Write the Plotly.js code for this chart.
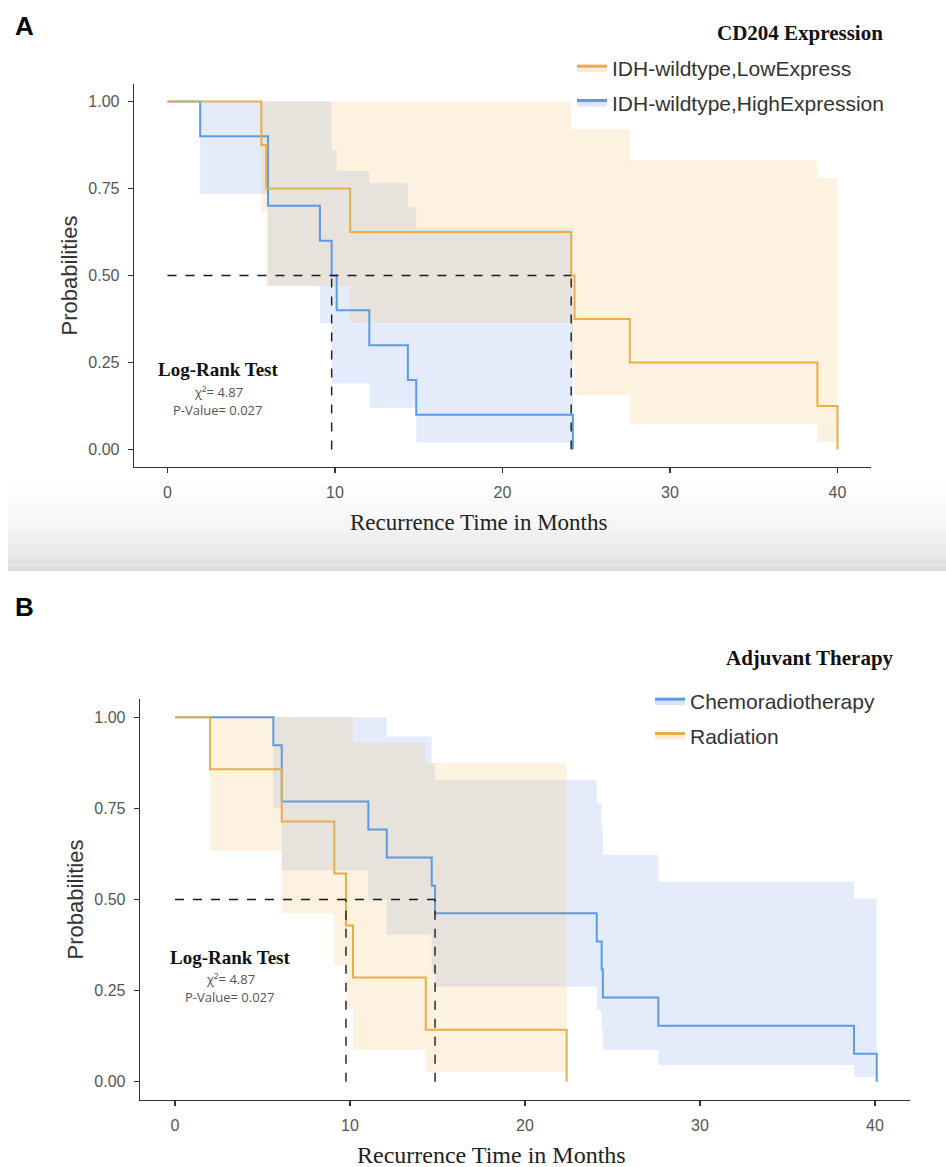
<!DOCTYPE html>
<html>
<head>
<meta charset="utf-8">
<script src="https://cdn.plot.ly/plotly-3.0.1.min.js"></script>
<style>html,body{margin:0;padding:0;background:#fff;}#chart{width:946px;height:1167px;}</style>
</head>
<body>
<div id="chart"></div>
<script>
// ---------- Panel A: CD204 Expression ----------
const A_low_name = "IDH-wildtype,LowExpress";
const A_low_time  = [0, 5.6, 5.9, 10.9, 24.1, 24.3, 27.6, 38.8, 40.0];
const A_low_surv  = [1, 0.875, 0.75, 0.625, 0.5, 0.375, 0.25, 0.125, 0];
const A_low_upper = [1, 1, 1, 1, 0.92, 0.92, 0.83, 0.78];
const A_low_lower = [1, 0.68, 0.47, 0.365, 0.25, 0.157, 0.075, 0.022];

const A_high_name = "IDH-wildtype,HighExpression";
const A_high_time  = [0, 1.95, 6.0, 9.1, 9.8, 10.1, 12.05, 14.35, 14.85, 24.2];
const A_high_surv  = [1, 0.9, 0.7, 0.6, 0.5, 0.4, 0.3, 0.2, 0.1, 0];
const A_high_upper = [1, 1, 1, 1, 0.86, 0.80, 0.765, 0.695, 0.635];
const A_high_lower = [1, 0.735, 0.47, 0.363, 0.19, 0.19, 0.12, 0.12, 0.02];

// ---------- Panel B: Adjuvant Therapy ----------
const B_chemo_name = "Chemoradiotherapy";
const B_chemo_time  = [0, 5.62, 6.1, 11.05, 12.1, 14.67, 14.86, 24.1, 24.38, 24.45, 27.62, 38.8, 40.1];
const B_chemo_surv  = [1, 0.923, 0.769, 0.692, 0.615, 0.538, 0.462, 0.385, 0.308, 0.231, 0.154, 0.077, 0];
const B_chemo_upper = [1, 1, 1, 1, 0.947, 0.874, 0.828, 0.764, 0.70, 0.622, 0.549, 0.503];
const B_chemo_lower = [1, 0.75, 0.58, 0.5, 0.403, 0.3, 0.261, 0.197, 0.14, 0.087, 0.046, 0.014];

const B_rad_name = "Radiation";
const B_rad_time  = [0, 2.0, 6.1, 9.1, 9.77, 10.17, 14.33, 22.38];
const B_rad_surv  = [1, 0.857, 0.714, 0.571, 0.429, 0.286, 0.143, 0];
const B_rad_upper = [1, 1, 1, 1, 1, 0.93, 0.874];
const B_rad_lower = [1, 0.634, 0.462, 0.32, 0.2, 0.087, 0.027];

const xTicks = [0, 10, 20, 30, 40];
const yTicks = [0, 0.25, 0.5, 0.75, 1];
const testLines = ["Log-Rank Test", "χ²= 4.87", "P-Value= 0.027"];
const xTitle = "Recurrence Time in Months";
const yTitle = "Probabilities";
const legendTitleA = "CD204 Expression";
const legendTitleB = "Adjuvant Therapy";

// ---------- styling ----------
const ORANGE = "#E8AF48", BLUE = "#5E9AE2";
const ORANGE_FILL = "rgba(245,190,110,0.22)", BLUE_FILL = "rgba(130,170,240,0.22)";
const ORANGE_LEG = "rgba(245,190,110,0.30)", BLUE_LEG = "rgba(130,170,240,0.30)";
const SANS = "Liberation Sans, Arial, sans-serif";
const SERIF = "Liberation Serif, Times New Roman, serif";

function bandTraces(t, up, lo, fill, xa, ya) {
  const yl = lo.concat([lo[lo.length - 1]]);
  const yu = up.concat([up[up.length - 1]]);
  return [
    {x: t, y: yl, xaxis: xa, yaxis: ya, mode: "lines", line: {width: 0, shape: "hv"}, hoverinfo: "skip", showlegend: false},
    {x: t, y: yu, xaxis: xa, yaxis: ya, mode: "lines", line: {width: 0, shape: "hv"}, fill: "tonexty", fillcolor: fill, hoverinfo: "skip", showlegend: false}
  ];
}
function curve(t, s, color, xa, ya) {
  return {x: t, y: s, xaxis: xa, yaxis: ya, mode: "lines", line: {shape: "hv", color: color, width: 2}, showlegend: false};
}
function legendEntry(name, color, fill, xa, ya, leg, grp) {
  return {x: [null], y: [null], xaxis: xa, yaxis: ya, mode: "lines", fill: "toself", fillcolor: fill,
          line: {color: color, width: 3}, name: name, legend: leg, legendgroup: grp, showlegend: true};
}
function median(t, s) { for (let i = 0; i < s.length; i++) if (s[i] <= 0.5) return t[i]; return null; }

const traces = [].concat(
  bandTraces(A_high_time, A_high_upper, A_high_lower, BLUE_FILL, "x", "y"),
  bandTraces(A_low_time, A_low_upper, A_low_lower, ORANGE_FILL, "x", "y"),
  [curve(A_high_time, A_high_surv, BLUE, "x", "y"), curve(A_low_time, A_low_surv, ORANGE, "x", "y")],
  bandTraces(B_chemo_time, B_chemo_upper, B_chemo_lower, BLUE_FILL, "x2", "y2"),
  bandTraces(B_rad_time, B_rad_upper, B_rad_lower, ORANGE_FILL, "x2", "y2"),
  [curve(B_chemo_time, B_chemo_surv, BLUE, "x2", "y2"), curve(B_rad_time, B_rad_surv, ORANGE, "x2", "y2")],
  [legendEntry(A_low_name, ORANGE, ORANGE_LEG, "x", "y", "legend", "a1"),
   legendEntry(A_high_name, BLUE, BLUE_LEG, "x", "y", "legend", "a2"),
   legendEntry(B_chemo_name, BLUE, BLUE_LEG, "x2", "y2", "legend2", "b1"),
   legendEntry(B_rad_name, ORANGE, ORANGE_LEG, "x2", "y2", "legend2", "b2")]
);

const W = 946, H = 1167;
const px = v => v / W, py = v => 1 - v / H;

const shapes = [];
// grey gradient band between the panels
const gTop = 482, gBot = 571, nG = 16;
for (let i = 0; i < nG; i++) {
  const y0 = gTop + (gBot - gTop) * i / nG, y1 = gTop + (gBot - gTop) * (i + 1) / nG;
  const f = Math.pow((i + 1) / nG, 1.8);
  const c = Math.round(254 - f * 32);
  shapes.push({type: "rect", xref: "paper", yref: "paper", layer: "below",
    x0: px(8), x1: 1, y0: py(y1), y1: py(y0), line: {width: 0}, fillcolor: `rgb(${c},${c},${c})`});
}
function medianShapes(mA, mB, xa, ya) {
  const mx = Math.max(mA, mB);
  const st = {color: "#1a1a1a", width: 1.4, dash: "dash"};
  return [
    {type: "line", xref: xa, yref: ya, x0: 0, x1: mx, y0: 0.5, y1: 0.5, line: st},
    {type: "line", xref: xa, yref: ya, x0: mA, x1: mA, y0: 0, y1: 0.5, line: st},
    {type: "line", xref: xa, yref: ya, x0: mB, x1: mB, y0: 0, y1: 0.5, line: st}
  ];
}
shapes.push(...medianShapes(median(A_high_time, A_high_surv), median(A_low_time, A_low_surv), "x", "y"));
shapes.push(...medianShapes(median(B_rad_time, B_rad_surv), median(B_chemo_time, B_chemo_surv), "x2", "y2"));

function xAxis(domain, anchor) {
  return {domain: domain, anchor: anchor, range: [-2, 42], tickvals: xTicks, ticktext: xTicks.map(String),
    showgrid: false, zeroline: false, showline: true, linecolor: "#333", linewidth: 1.3,
    ticks: "outside", ticklen: 5, tickwidth: 1.3, tickcolor: "#333", ticklabelstandoff: 5,
    tickfont: {family: SANS, size: 16, color: "#555"}};
}
function yAxis(domain, anchor) {
  return {domain: domain, anchor: anchor, range: [-0.05, 1.05], tickvals: yTicks, ticktext: yTicks.map(v => v.toFixed(2)),
    showgrid: false, zeroline: false, showline: true, linecolor: "#333", linewidth: 1.3,
    ticks: "outside", ticklen: 5, tickwidth: 1.3, tickcolor: "#333", ticklabelstandoff: 5,
    tickfont: {family: SANS, size: 16, color: "#555"},
    title: {text: yTitle, standoff: 4, font: {family: SANS, size: 22, color: "#333"}}};
}

function ann(text, x, y, font, extra) {
  return Object.assign({text: text, x: px(x), y: py(y), xref: "paper", yref: "paper", showarrow: false,
    xanchor: "center", yanchor: "middle", font: font}, extra || {});
}
function testAnn(cx, y0) {
  return [
    ann("<b>" + testLines[0] + "</b>", cx, y0, {family: SERIF, size: 19, color: "#111"}),
    ann(testLines[1], cx, y0 + 22, {family: "Open Sans, Liberation Sans, sans-serif", size: 13, color: "#555"}),
    ann(testLines[2], cx, y0 + 40, {family: "Open Sans, Liberation Sans, sans-serif", size: 13, color: "#555"})
  ];
}

const annotations = [
  ann("<b>A</b>", 24, 26, {family: SANS, size: 26, color: "#000"}),
  ann("<b>B</b>", 24, 607, {family: SANS, size: 26, color: "#000"}),
  ann("<b>" + legendTitleA + "</b>", 800, 33, {family: SERIF, size: 21, color: "#111"}),
  ann("<b>" + legendTitleB + "</b>", 810, 658, {family: SERIF, size: 21, color: "#111"}),
  ann(xTitle, 479, 522, {family: SERIF, size: 23, color: "#222"}),
  ann(xTitle, 491, 1155, {family: SERIF, size: 24, color: "#222"})
].concat(testAnn(218, 370), testAnn(230, 957));

const legFont = {family: SANS, size: 21, color: "#333"};
const layout = {
  width: W, height: H, margin: {l: 0, r: 0, t: 0, b: 0},
  paper_bgcolor: "#fff", plot_bgcolor: "rgba(0,0,0,0)",
  xaxis: xAxis([px(134), px(871)], "y"),
  yaxis: yAxis([py(467), py(84)], "x"),
  xaxis2: xAxis([px(140), px(910)], "y2"),
  yaxis2: yAxis([py(1100), py(699)], "x2"),
  legend: {x: px(572), y: py(48), xanchor: "left", yanchor: "top", font: legFont, bgcolor: "rgba(0,0,0,0)",
           tracegroupgap: 4, traceorder: "grouped"},
  legend2: {x: px(650), y: py(681), xanchor: "left", yanchor: "top", font: legFont, bgcolor: "rgba(0,0,0,0)",
            tracegroupgap: 4, traceorder: "grouped"},
  shapes: shapes,
  annotations: annotations,
  showlegend: true
};

Plotly.newPlot("chart", traces, layout, {staticPlot: true, displayModeBar: false});
</script>
</body>
</html>
